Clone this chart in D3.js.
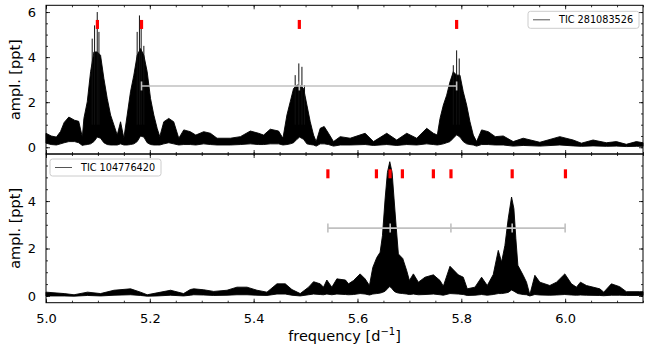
<!DOCTYPE html>
<html>
<head>
<meta charset="utf-8">
<script src="https://cdn.jsdelivr.net/npm/d3@7"></script>
<style>
  body { margin: 0; background: #fff; }
  svg text { font-family: "DejaVu Sans", sans-serif; }
</style>
</head>
<body>
<div id="graph"></div>
<script>
// amplitude spectrum envelopes (freq in d^-1, ampl in ppt)
var freqA = [5.000,5.010,5.020,5.028,5.035,5.044,5.055,5.063,5.070,5.073,5.0795,5.0859,5.0923,5.0987,5.1051,5.1115,5.1179,5.1244,5.1308,5.1372,5.1436,5.150,5.1564,5.1628,5.1692,5.1756,5.1821,5.1885,5.1949,5.2013,5.2077,5.2141,5.2192,5.2269,5.2365,5.246,5.2558,5.2654,5.278,5.2885,5.3038,5.3167,5.3295,5.3551,5.3744,5.3936,5.4096,5.4192,5.432,5.448,5.4564,5.4641,5.4705,5.4769,5.4833,5.4885,5.4962,5.5026,5.509,5.5154,5.5205,5.5282,5.5359,5.5442,5.5538,5.5667,5.5859,5.6148,5.6308,5.6564,5.6756,5.6949,5.7141,5.7333,5.7462,5.7538,5.759,5.7654,5.7718,5.7782,5.7846,5.791,5.7974,5.8038,5.8103,5.8167,5.8231,5.8295,5.8391,5.852,5.8654,5.8808,5.900,5.9192,5.9513,5.9897,6.0154,6.0314,6.0538,6.0795,6.0987,6.1179,6.1372,6.150];
var upA = [0.62,0.50,0.45,0.70,1.10,1.34,1.20,1.15,0.45,1.28,2.02,3.35,4.23,4.23,4.08,3.05,2.17,1.43,0.99,0.54,1.13,0.40,1.43,2.46,3.20,4.08,4.38,4.08,3.35,2.17,1.43,0.84,0.47,1.13,1.28,1.13,0.40,0.77,0.69,0.54,0.69,0.62,0.40,0.40,0.47,0.72,0.62,0.54,0.80,0.72,0.40,1.43,2.02,2.61,2.76,2.76,2.61,1.87,1.13,0.54,0.25,0.84,0.92,0.62,0.25,0.47,0.40,0.62,0.25,0.62,0.32,0.62,0.40,0.84,0.62,0.54,1.28,1.87,2.31,2.90,3.35,3.20,3.20,2.46,1.87,1.13,0.54,0.25,0.77,0.69,0.47,0.50,0.25,0.40,0.22,0.47,0.32,0.18,0.32,0.20,0.25,0.13,0.25,0.20];
var loA = [0.18,0.12,0.10,0.15,0.20,0.25,0.25,0.20,0.08,0.10,0.12,0.15,0.25,0.45,0.40,0.20,0.12,0.10,0.10,0.10,0.15,0.10,0.10,0.12,0.15,0.25,0.50,0.45,0.20,0.12,0.10,0.10,0.10,0.15,0.20,0.15,0.10,0.12,0.12,0.10,0.15,0.12,0.10,0.10,0.12,0.15,0.12,0.12,0.15,0.15,0.10,0.12,0.15,0.20,0.35,0.45,0.35,0.15,0.12,0.10,0.05,0.15,0.15,0.12,0.05,0.10,0.10,0.12,0.08,0.12,0.08,0.12,0.10,0.15,0.12,0.10,0.12,0.15,0.20,0.25,0.40,0.55,0.45,0.25,0.15,0.12,0.10,0.05,0.12,0.12,0.10,0.10,0.05,0.08,0.05,0.10,0.06,0.04,0.06,0.04,0.05,0.03,0.04,0.04];
var spikeFreqA = [5.089,5.0936,5.0987,5.102,5.1756,5.180,5.1833,5.1885,5.480,5.487,5.493,5.498,5.7846,5.791,5.796];
var spikeAmpA = [4.82,5.41,6.0,5.12,5.12,5.85,5.56,4.5,3.2,3.72,3.57,2.76,3.64,4.3,3.94];
var modesA = [5.099,5.184,5.488,5.791];
var combA = [5.184,5.488,5.791];

var freqB = [5.000,5.035,5.054,5.080,5.105,5.131,5.163,5.182,5.195,5.214,5.240,5.265,5.278,5.2846,5.3038,5.3231,5.3487,5.3679,5.3872,5.4064,5.4256,5.4449,5.4609,5.4737,5.4897,5.5058,5.5154,5.5282,5.5346,5.541,5.5506,5.5603,5.5769,5.5827,5.5923,5.6051,5.6147,5.6231,5.6295,5.6372,5.6436,5.6481,5.6532,5.6577,5.6622,5.6667,5.6705,5.6744,5.6788,5.6872,5.6949,5.700,5.7077,5.7173,5.7301,5.7462,5.759,5.7654,5.7782,5.7942,5.8038,5.8115,5.8263,5.8391,5.850,5.8615,5.8712,5.8776,5.884,5.8904,5.8968,5.9013,5.9051,5.909,5.9192,5.9256,5.932,5.9417,5.9513,5.9705,5.9833,5.9994,6.0122,6.0218,6.0295,6.041,6.0667,6.0744,6.0891,6.1051,6.1179,6.1436,6.150];
var upB = [0.16,0.10,0.05,0.16,0.10,0.24,0.30,0.16,0.05,0.13,0.24,0.10,0.27,0.30,0.26,0.19,0.24,0.37,0.37,0.24,0.16,0.51,0.51,0.27,0.10,0.37,0.60,0.51,0.37,0.67,0.37,0.72,0.67,0.51,0.65,0.93,0.72,0.44,1.20,1.62,1.84,2.54,4.09,5.21,5.66,5.21,4.09,2.96,1.77,1.58,1.06,0.65,0.93,0.58,0.79,0.89,0.65,0.41,1.25,0.89,0.79,0.30,0.37,0.79,0.44,0.90,1.92,1.43,2.13,3.26,4.17,3.68,2.41,1.29,0.87,0.58,0.05,0.87,0.58,0.44,0.58,0.93,0.51,0.37,0.58,0.44,0.30,0.16,0.51,0.39,0.18,0.18,0.18];
var loB = [0.0,0.0,-0.01,0.02,0.0,0.03,0.05,0.02,-0.01,0.0,0.03,0.0,0.03,0.05,0.04,0.02,0.03,0.05,0.05,0.03,0.02,0.08,0.08,0.03,0.0,0.05,0.08,0.06,0.05,0.08,0.05,0.08,0.06,0.05,0.06,0.10,0.08,0.04,0.08,0.10,0.12,0.15,0.20,0.30,0.40,0.30,0.20,0.15,0.12,0.10,0.08,0.06,0.08,0.05,0.06,0.08,0.05,0.03,0.10,0.08,0.06,0.02,0.03,0.06,0.03,0.06,0.10,0.10,0.12,0.15,0.25,0.20,0.15,0.10,0.06,0.05,0.0,0.06,0.04,0.03,0.04,0.06,0.04,0.03,0.04,0.03,0.02,0.01,0.03,0.03,0.02,0.02,0.02];
var modesB = [5.543,5.6365,5.6628,5.6865,5.7462,5.7801,5.898,6.0006];
var combB = [5.543,5.663,5.780,5.898,6.0];

var xTicks = [5.0,5.2,5.4,5.6,5.8,6.0];
var yTicks = [0,2,4,6];

var W = 654, H = 352;
var left = 46, right = 643;

var svg = d3.select("#graph").append("svg")
    .attr("width", W)
    .attr("height", H);

var x = d3.scaleLinear().domain([5.0, 6.15]).range([left, right]);
var xMinor = d3.range(5.0, 6.151, 0.05);
var yMinor = d3.range(0, 6.01, 0.5);

function drawPanel(cfg) {
    var y = d3.scaleLinear().domain(cfg.ylim).range([cfg.y1, cfg.y0]);
    var g = svg.append("g");
    var id = "clip" + cfg.name;

    g.append("clipPath").attr("id", id)
        .append("rect")
        .attr("x", left).attr("y", cfg.y0)
        .attr("width", right - left).attr("height", cfg.y1 - cfg.y0);

    var plot = g.append("g").attr("clip-path", "url(#" + id + ")");

    var rows = cfg.freq.map(function(f, i) { return {f: f, hi: cfg.up[i], lo: cfg.lo[i]}; });

    var area = d3.area()
        .x(function(d) { return x(d.f); })
        .y0(function(d) { return y(d.lo); })
        .y1(function(d) { return y(d.hi); });

    plot.append("path")
        .datum(rows)
        .attr("d", area)
        .style("fill", "#000")
        .style("stroke", "#000")
        .style("stroke-width", 0.9)
        .style("stroke-linejoin", "round");

    // tall narrow spikes sticking out of the peaks
    if (cfg.spikeF) {
        plot.selectAll("line.spike")
            .data(cfg.spikeF)
            .enter().append("line")
            .attr("class", "spike")
            .attr("x1", function(d) { return x(d); })
            .attr("x2", function(d) { return x(d); })
            .attr("y1", y(1.0))
            .attr("y2", function(d, i) { return y(cfg.spikeA[i]); })
            .style("stroke", "#111")
            .style("stroke-width", 1);
    }

    // grey spacing comb
    plot.append("line")
        .attr("x1", x(d3.min(cfg.comb))).attr("x2", x(d3.max(cfg.comb)))
        .attr("y1", y(cfg.combY)).attr("y2", y(cfg.combY))
        .style("stroke", "#c0c0c0")
        .style("stroke-width", 1.6);
    plot.selectAll("line.cap")
        .data(cfg.comb)
        .enter().append("line")
        .attr("class", "cap")
        .attr("x1", function(d) { return x(d); })
        .attr("x2", function(d) { return x(d); })
        .attr("y1", y(cfg.combY) - 4.5)
        .attr("y2", y(cfg.combY) + 4.5)
        .style("stroke", "#c0c0c0")
        .style("stroke-width", 1.6);

    // red mode markers
    plot.selectAll("rect.mode")
        .data(cfg.modes)
        .enter().append("rect")
        .attr("class", "mode")
        .attr("x", function(d) { return x(d) - 1.6; })
        .attr("y", y(cfg.modeY) - 4.5)
        .attr("width", 3.2)
        .attr("height", 9)
        .style("fill", "#ff0000");

    // ticks, all pointing inwards
    function styleAxis(sel) {
        sel.select(".domain").remove();
        sel.selectAll("line").style("stroke", "#000").style("stroke-width", 0.8);
        sel.selectAll("text").style("font-size", "13px").style("fill", "#000")
            .style("font-family", "'DejaVu Sans', sans-serif");
    }
    g.append("g").attr("transform", "translate(0," + cfg.y1 + ")")
        .call(d3.axisBottom(x).tickValues(xTicks).tickSizeInner(-4).tickSizeOuter(0).tickPadding(11)
            .tickFormat(cfg.xLabels ? d3.format(".1f") : ""))
        .call(styleAxis);
    g.append("g").attr("transform", "translate(0," + cfg.y1 + ")")
        .call(d3.axisBottom(x).tickValues(xMinor).tickSizeInner(-2).tickSizeOuter(0).tickFormat(""))
        .call(styleAxis);
    g.append("g").attr("transform", "translate(0," + cfg.y0 + ")")
        .call(d3.axisTop(x).tickValues(xTicks).tickSizeInner(-4).tickSizeOuter(0).tickFormat(""))
        .call(styleAxis);
    g.append("g").attr("transform", "translate(0," + cfg.y0 + ")")
        .call(d3.axisTop(x).tickValues(xMinor).tickSizeInner(-2).tickSizeOuter(0).tickFormat(""))
        .call(styleAxis);

    var yt = yTicks.filter(function(t) { return t <= cfg.ylim[1]; });
    var ym = yMinor.filter(function(t) { return t <= cfg.ylim[1]; });
    g.append("g").attr("transform", "translate(" + left + ",0)")
        .call(d3.axisLeft(y).tickValues(yt).tickSizeInner(-4).tickSizeOuter(0).tickPadding(10).tickFormat(d3.format("d")))
        .call(styleAxis);
    g.append("g").attr("transform", "translate(" + left + ",0)")
        .call(d3.axisLeft(y).tickValues(ym).tickSizeInner(-2).tickSizeOuter(0).tickFormat(""))
        .call(styleAxis);
    g.append("g").attr("transform", "translate(" + right + ",0)")
        .call(d3.axisRight(y).tickValues(yt).tickSizeInner(-4).tickSizeOuter(0).tickFormat(""))
        .call(styleAxis);
    g.append("g").attr("transform", "translate(" + right + ",0)")
        .call(d3.axisRight(y).tickValues(ym).tickSizeInner(-2).tickSizeOuter(0).tickFormat(""))
        .call(styleAxis);

    // frame
    g.append("rect")
        .attr("x", left).attr("y", cfg.y0)
        .attr("width", right - left).attr("height", cfg.y1 - cfg.y0)
        .style("fill", "none")
        .style("stroke", "#000")
        .style("stroke-width", 1);

    g.append("text")
        .attr("transform", "translate(20," + ((cfg.y0 + cfg.y1) / 2) + ") rotate(-90)")
        .attr("text-anchor", "middle")
        .style("font-size", "14.5px")
        .text("ampl. [ppt]");

    // legend
    var lg = g.append("g").attr("transform", "translate(" + cfg.legend[0] + "," + cfg.legend[1] + ")");
    lg.append("rect")
        .attr("width", 111).attr("height", 17).attr("rx", 2.5)
        .style("fill", "#fff").style("fill-opacity", 0.8)
        .style("stroke", "#cccccc").style("stroke-width", 1);
    lg.append("line")
        .attr("x1", 5).attr("x2", 22).attr("y1", 8.5).attr("y2", 8.5)
        .style("stroke", "#555").style("stroke-width", 1);
    lg.append("text")
        .attr("x", 31).attr("y", 12)
        .style("font-size", "9.7px")
        .text(cfg.name);
}

drawPanel({
    name: "TIC 281083526",
    y0: 5.3, y1: 154, ylim: [-0.3, 6.3],
    freq: freqA, up: upA, lo: loA,
    spikeF: spikeFreqA, spikeA: spikeAmpA,
    modes: modesA, modeY: 5.45,
    comb: combA, combY: 2.72,
    xLabels: false,
    legend: [528, 11.3]
});

drawPanel({
    name: "TIC 104776420",
    y0: 154, y1: 302.7, ylim: [-0.285, 5.985],
    freq: freqB, up: upB, lo: loB,
    modes: modesB, modeY: 5.15,
    comb: combB, combY: 2.86,
    xLabels: true,
    legend: [50, 159]
});

svg.append("text")
    .attr("x", (left + right) / 2)
    .attr("y", 341)
    .attr("text-anchor", "middle")
    .style("font-size", "14.5px")
    .html("frequency [d<tspan dy='-6' font-size='10px'>−1</tspan><tspan dy='6'>]</tspan>");
</script>
</body>
</html>
